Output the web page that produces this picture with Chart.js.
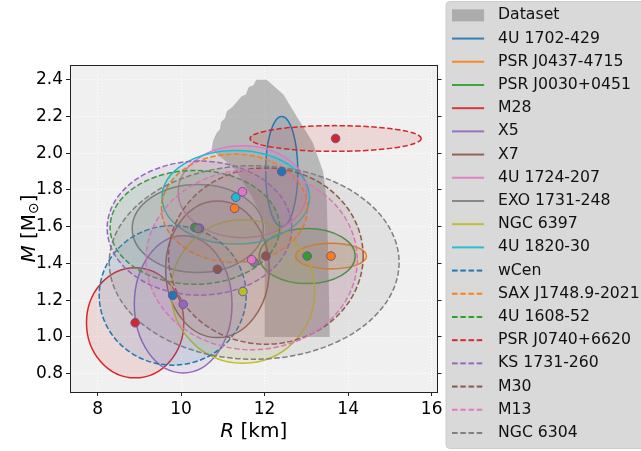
<!DOCTYPE html>
<html>
<head>
<meta charset="utf-8">
<script src="https://cdn.jsdelivr.net/npm/chart.js@4.4.0/dist/chart.umd.min.js"></script>
<style>
html, body { margin: 0; padding: 0; background: #fff; }
</style>
</head>
<body>
<canvas id="myChart" width="641" height="451"></canvas>
<script>
// sources: ellipse centre (R, M) and half-widths
const sources = ['4U 1702-429', 'PSR J0437-4715', 'PSR J0030+0451', 'M28', 'X5', 'X7',
    '4U 1724-207', 'EXO 1731-248', 'NGC 6397', '4U 1820-30', 'wCen', 'SAX J1748.9-2021',
    '4U 1608-52', 'PSR J0740+6620', 'KS 1731-260', 'M30', 'M13', 'NGC 6304'];
const centerR = [12.41, 13.59, 13.02, 8.90, 10.05, 10.87, 11.47, 10.40, 11.48, 11.31, 9.80, 11.28, 10.33, 13.70, 10.44, 12.03, 11.69, 11.75];
const centerM = [1.90, 1.44, 1.44, 1.077, 1.177, 1.368, 1.79, 1.59, 1.247, 1.76, 1.226, 1.70, 1.596, 2.08, 1.592, 1.44, 1.42, 1.405];
const errR = [0.385, 0.85, 1.15, 1.165, 1.17, 1.24, 1.54, 1.57, 1.72, 1.765, 1.76, 1.75, 2.03, 2.05, 2.21, 2.33, 2.53, 3.47];
const errM = [0.30, 0.07, 0.15, 0.30, 0.373, 0.372, 0.25, 0.24, 0.39, 0.255, 0.38, 0.295, 0.31, 0.07, 0.365, 0.48, 0.49, 0.527];
const colors = ['#1f77b4', '#ff7f0e', '#2ca02c', '#d62728', '#9467bd', '#8c564b', '#e377c2', '#7f7f7f', '#bcbd22', '#17becf',
    '#1f77b4', '#ff7f0e', '#2ca02c', '#d62728', '#9467bd', '#8c564b', '#e377c2', '#7f7f7f'];
const dashed = [false, false, false, false, false, false, false, false, false, false,
    true, true, true, true, true, true, true, true];

// outline of the grey "Dataset" region
const datasetR = [12.0, 13.56, 13.52, 13.49, 13.4, 13.15, 12.77, 12.45, 12.05, 11.8, 11.73, 11.62, 11.55, 11.45, 11.3, 11.22, 11.1, 11.05, 10.96, 10.93, 10.85, 10.77, 10.73, 11.0, 11.3, 11.7, 12.0];
const datasetM = [1.0, 1.0, 1.47, 1.74, 1.9, 2.06, 2.2, 2.32, 2.40, 2.40, 2.37, 2.36, 2.32, 2.31, 2.27, 2.25, 2.23, 2.19, 2.17, 2.13, 2.11, 2.07, 2.02, 1.97, 1.91, 1.76, 1.62];

const xTicks = [8, 10, 12, 14, 16];
const yTicks = [0.8, 1.0, 1.2, 1.4, 1.6, 1.8, 2.0, 2.2, 2.4];

const font = "'DejaVu Sans', sans-serif";
Chart.defaults.font.family = font;
Chart.defaults.color = '#000';

function rgba(hex, a) {
    const n = parseInt(hex.slice(1), 16);
    return 'rgba(' + (n >> 16) + ',' + ((n >> 8) & 255) + ',' + (n & 255) + ',' + a + ')';
}

function legendSymbol(color, dash, box) {
    const c = document.createElement('canvas');
    c.width = 38;
    c.height = 16;
    const g = c.getContext('2d');
    if (box) {
        g.fillStyle = color;
        g.fillRect(0, 2, 32, 12);
    } else {
        g.strokeStyle = color;
        g.lineWidth = 1.8;
        g.setLineDash(dash ? [5.5, 2.7] : []);
        g.beginPath();
        g.moveTo(0, 8);
        g.lineTo(32, 8);
        g.stroke();
    }
    return c;
}

const datasets = [{
    label: 'Dataset',
    data: datasetR.map((r, i) => ({x: r, y: datasetM[i]})),
    showLine: true,
    fill: 'shape',
    backgroundColor: 'rgba(128,128,128,0.5)',
    borderColor: 'rgba(0,0,0,0)',
    borderWidth: 0,
    pointRadius: 0,
    order: 1,
    symbol: legendSymbol('rgba(128,128,128,0.5)', false, true)
}];
sources.forEach((name, i) => {
    datasets.push({
        label: name,
        data: [{x: centerR[i], y: centerM[i]}],
        backgroundColor: colors[i],
        borderColor: '#6f5596',
        borderWidth: 1,
        pointRadius: 4.3,
        order: 0,
        symbol: legendSymbol(colors[i], dashed[i], false)
    });
});

// plot background and legend frame
const backdrop = {
    id: 'backdrop',
    beforeDraw(chart) {
        const {ctx, chartArea} = chart;
        ctx.save();
        ctx.fillStyle = '#f0f0f0';
        ctx.fillRect(chartArea.left, chartArea.top, chartArea.width, chartArea.height);
        ctx.fillStyle = '#d9d9d9';
        ctx.strokeStyle = '#cccccc';
        ctx.lineWidth = 1;
        ctx.beginPath();
        ctx.roundRect(chart.legend.left + 1.5, 1.5, 220, 447, 4);
        ctx.fill();
        ctx.stroke();
        ctx.restore();
    }
};

// error ellipses, drawn after the grey region and before the dots
const ellipses = {
    id: 'ellipses',
    afterDatasetDraw(chart, args) {
        if (args.index !== 0) return;
        const {ctx, chartArea, scales: {x, y}} = chart;
        ctx.save();
        ctx.beginPath();
        ctx.rect(chartArea.left, chartArea.top, chartArea.width, chartArea.height);
        ctx.clip();
        sources.forEach((name, i) => {
            const cx = x.getPixelForValue(centerR[i]);
            const cy = y.getPixelForValue(centerM[i]);
            const rx = Math.abs(x.getPixelForValue(centerR[i] + errR[i]) - cx);
            const ry = Math.abs(y.getPixelForValue(centerM[i] + errM[i]) - cy);
            ctx.beginPath();
            ctx.ellipse(cx, cy, rx, ry, 0, 0, 2 * Math.PI);
            ctx.fillStyle = rgba(colors[i], 0.12);
            ctx.fill();
            ctx.lineWidth = 1.5;
            ctx.strokeStyle = colors[i];
            ctx.setLineDash(dashed[i] ? [5.5, 2.4] : []);
            ctx.stroke();
        });
        ctx.restore();
    }
};

// axis titles with italic symbols
const axisTitles = {
    id: 'axisTitles',
    afterDraw(chart) {
        const {ctx, chartArea} = chart;
        ctx.save();
        ctx.fillStyle = '#000';
        ctx.textBaseline = 'middle';
        ctx.textAlign = 'left';
        const it = 'italic 20px ' + font, up = '20px ' + font, sub = '14px ' + font;
        ctx.font = it;
        const wR = ctx.measureText('R').width;
        ctx.font = up;
        const wKm = ctx.measureText(' [km]').width;
        let x0 = (chartArea.left + chartArea.right) / 2 - (wR + wKm) / 2;
        ctx.font = it;
        ctx.fillText('R', x0, 432);
        ctx.font = up;
        ctx.fillText(' [km]', x0 + wR, 432);

        ctx.translate(30, (chartArea.top + chartArea.bottom) / 2);
        ctx.rotate(-Math.PI / 2);
        const parts = [[it, 'M', 0], [up, ' [M', 0], [sub, '\u2299', 4], [up, ']', 0]];
        let total = 0;
        parts.forEach(p => { ctx.font = p[0]; total += ctx.measureText(p[1]).width; });
        let px = -total / 2;
        parts.forEach(p => {
            ctx.font = p[0];
            ctx.fillText(p[1], px, p[2]);
            px += ctx.measureText(p[1]).width;
        });
        ctx.restore();
    }
};

const frame = {color: '#222', width: 1};
const ctx = document.getElementById('myChart').getContext('2d');
const myChart = new Chart(ctx, {
    type: 'scatter',
    data: {datasets: datasets},
    options: {
        responsive: false,
        animation: false,
        events: [],
        layout: {padding: 0},
        plugins: {
            tooltip: {enabled: false},
            legend: {
                position: 'right',
                align: 'start',
                maxWidth: 196.5,
                labels: {
                    usePointStyle: true,
                    pointStyleWidth: 38.15,
                    font: {size: 15.7},
                    padding: 7.5,
                    generateLabels: (chart) => chart.data.datasets.map((ds, i) => ({
                        text: ds.label,
                        pointStyle: ds.symbol,
                        datasetIndex: i,
                        hidden: false,
                        lineWidth: 0,
                        fillStyle: 'rgba(0,0,0,0)',
                        strokeStyle: 'rgba(0,0,0,0)',
                        fontColor: '#111'
                    }))
                }
            }
        },
        scales: {
            x: {
                type: 'linear', position: 'bottom', min: 7.34, max: 16.14, z: 1,
                afterBuildTicks: (s) => { s.ticks = xTicks.map(v => ({value: v})); },
                afterFit: (s) => { s.height = 59; },
                ticks: {font: {size: 17}, color: '#000', padding: 3, maxRotation: 0, autoSkip: false, callback: (v) => String(v)},
                grid: {color: '#ffffff', lineWidth: 1, tickColor: '#222', tickLength: 4, tickWidth: 1},
                border: {display: true, color: frame.color, width: frame.width, dash: [1, 2]}
            },
            x2: {
                type: 'linear', position: 'top', min: 7.34, max: 16.14, z: 1,
                afterFit: (s) => { s.height = 65; },
                ticks: {display: false},
                grid: {display: false},
                border: {display: true, color: frame.color, width: frame.width}
            },
            y: {
                type: 'linear', position: 'left', min: 0.70, max: 2.48, z: 1,
                afterBuildTicks: (s) => { s.ticks = yTicks.map(v => ({value: v})); },
                afterFit: (s) => { s.width = 70; },
                ticks: {font: {size: 17}, color: '#000', padding: 3, autoSkip: false, callback: (v) => v.toFixed(1)},
                grid: {color: '#ffffff', lineWidth: 1, tickColor: '#222', tickLength: 4, tickWidth: 1},
                border: {display: true, color: frame.color, width: frame.width, dash: [1, 2]}
            },
            y2: {
                type: 'linear', position: 'right', min: 0.70, max: 2.48, z: 1,
                afterBuildTicks: (s) => { s.ticks = yTicks.map(v => ({value: v})); },
                afterFit: (s) => { s.width = 7; },
                ticks: {display: false},
                grid: {drawOnChartArea: false, tickColor: '#222', tickLength: 4, tickWidth: 1},
                border: {display: true, color: frame.color, width: frame.width}
            }
        }
    },
    plugins: [backdrop, ellipses, axisTitles]
});
</script>
</body>
</html>
